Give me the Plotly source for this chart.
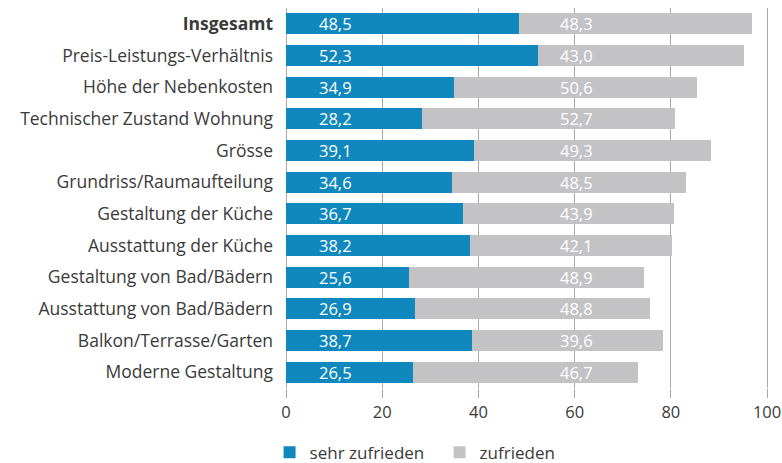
import plotly.graph_objects as go

categories = [
    "<b>Insgesamt</b>",
    "Preis-Leistungs-Verhältnis",
    "Höhe der Nebenkosten",
    "Technischer Zustand Wohnung",
    "Grösse",
    "Grundriss/Raumaufteilung",
    "Gestaltung der Küche",
    "Ausstattung der Küche",
    "Gestaltung von Bad/Bädern",
    "Ausstattung von Bad/Bädern",
    "Balkon/Terrasse/Garten",
    "Moderne Gestaltung",
]
sehr_zufrieden = [48.5, 52.3, 34.9, 28.2, 39.1, 34.6, 36.7, 38.2, 25.6, 26.9, 38.7, 26.5]
zufrieden = [48.3, 43.0, 50.6, 52.7, 49.3, 48.5, 43.9, 42.1, 48.9, 48.8, 39.6, 46.7]
x_ticks = [0, 20, 40, 60, 80, 100]
label_x_sehr = 10.3
label_x_zuf = 60.3

BLUE = "#1088bd"
GREY = "#c3c3c6"
TEXT = "#3a3a3a"
FONT = "Open Sans"

def fmt(v):
    return f"{v:.1f}".replace(".", ",")

fig = go.Figure()
fig.add_trace(go.Bar(
    y=categories, x=sehr_zufrieden, orientation="h", name="sehr zufrieden",
    marker=dict(color=BLUE, line=dict(width=0)),
))
fig.add_trace(go.Bar(
    y=categories, x=zufrieden, orientation="h", name="zufrieden",
    marker=dict(color=GREY, line=dict(width=0)),
))

for c, a, b in zip(categories, sehr_zufrieden, zufrieden):
    fig.add_annotation(x=label_x_sehr, y=c, text=fmt(a), showarrow=False,
                       xref="x", yref="y", font=dict(family=FONT, size=16.5, color="white"))
    fig.add_annotation(x=label_x_zuf, y=c, text=fmt(b), showarrow=False,
                       xref="x", yref="y", font=dict(family=FONT, size=16.5, color="white"))

fig.update_layout(
    barmode="stack",
    bargap=0.33,
    width=782, height=463,
    margin=dict(l=286, r=13, t=8, b=75, autoexpand=False),
    paper_bgcolor="white", plot_bgcolor="white",
    font=dict(family=FONT, size=16, color=TEXT),
    showlegend=True,
    legend=dict(orientation="h", x=-0.034, xanchor="left", y=-0.17, yanchor="middle",
                font=dict(family=FONT, size=17, color=TEXT), entrywidth=125,
                traceorder="normal"),
    xaxis=dict(range=[0, 100.4], tickvals=x_ticks, ticktext=[str(t) for t in x_ticks],
               showgrid=True, gridcolor="#a8a8a8", gridwidth=1,
               ticks="outside", ticklen=9, tickcolor="#a8a8a8", automargin=False,
               ticklabeloverflow="allow",
               zeroline=True, zerolinecolor="#a8a8a8", zerolinewidth=1,
               showline=False, tickfont=dict(size=16.5, color=TEXT), fixedrange=True),
    yaxis=dict(autorange="reversed", showgrid=False, ticks="", ticklabelstandoff=12,
               automargin=False, fixedrange=True,
               tickfont=dict(size=17.5, color=TEXT), showline=False),
)

fig.write_html(
    "out.html",
    config={"displayModeBar": False},
    post_script="document.body.style.margin='0';document.body.style.overflow='hidden';",
)
